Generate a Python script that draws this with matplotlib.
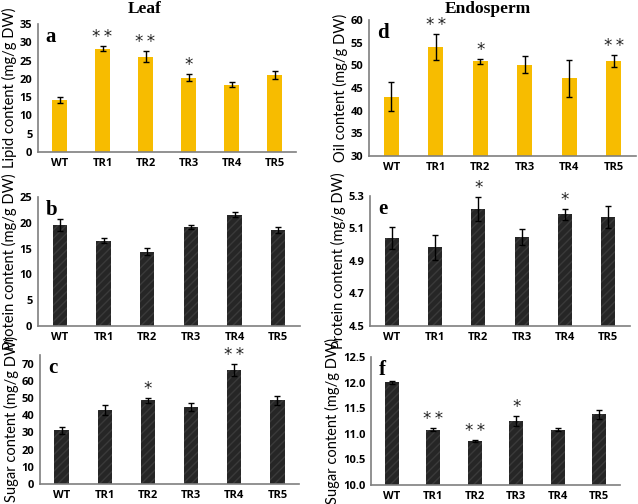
import matplotlib
matplotlib.use("Agg")
import matplotlib.pyplot as plt

lines = ["WT", "TR1", "TR2", "TR3", "TR4", "TR5"]

leaf_lipid = [14.2, 28.2, 26.1, 20.3, 18.4, 21.0]
leaf_lipid_err = [0.9, 0.65, 1.4, 1.0, 0.7, 1.1]
leaf_lipid_sig = ["", "**", "**", "*", "", ""]

leaf_protein = [19.6, 16.5, 14.4, 19.2, 21.6, 18.6]
leaf_protein_err = [1.1, 0.5, 0.65, 0.4, 0.5, 0.5]
leaf_protein_sig = ["", "", "", "", "", ""]

leaf_sugar = [31.2, 43.1, 48.6, 44.8, 66.2, 48.6]
leaf_sugar_err = [2.1, 2.7, 1.6, 2.3, 3.3, 2.6]
leaf_sugar_sig = ["", "", "*", "", "**", ""]

endo_oil = [43.1, 54.0, 50.9, 50.1, 47.1, 50.9]
endo_oil_err = [3.2, 2.9, 0.6, 1.9, 4.0, 1.3]
endo_oil_sig = ["", "**", "*", "", "", "**"]

endo_protein = [5.042, 4.986, 5.22, 5.048, 5.187, 5.171]
endo_protein_err = [0.067, 0.077, 0.071, 0.049, 0.036, 0.068]
endo_protein_sig = ["", "", "*", "", "*", ""]

endo_sugar = [12.01, 11.08, 10.86, 11.25, 11.08, 11.38]
endo_sugar_err = [0.03, 0.03, 0.02, 0.10, 0.025, 0.09]
endo_sugar_sig = ["", "**", "**", "*", "", ""]

W, H = 638, 504
YELLOW = "#F7BC00"
DARK = "#262626"
SPINE = "#7f7f7f"

fig = plt.figure(figsize=(W / 100, H / 100), dpi=100)


def px_axes(left, top, right, bottom):
    return fig.add_axes([left / W, 1 - bottom / H, (right - left) / W, (bottom - top) / H])


def panel(box, vals, errs, sig, color, ylim, ticks, fmt, ylabel, letter, hatch=None):
    ax = px_axes(*box)
    x = range(len(lines))
    ax.bar(x, [v - ylim[0] for v in vals], bottom=ylim[0], width=0.33, color=color,
           hatch=hatch, edgecolor=color if hatch is None else "#3a3a3a", linewidth=0)
    ax.errorbar(x, vals, yerr=errs, fmt="none", ecolor="black", elinewidth=1,
                capsize=2.5, capthick=1)
    for i, s in enumerate(sig):
        if s:
            ax.text(i, vals[i] + errs[i], "\u2009".join(s), ha="center",
                    va="bottom", fontsize=12, family="DejaVu Sans", color="#222222")
    ax.set_xlim(-0.5, len(lines) - 0.5)
    ax.set_ylim(*ylim)
    ax.set_yticks(ticks)
    ax.set_yticklabels([fmt.format(t) for t in ticks], fontsize=8, fontweight="bold",
                       family="Open Sans")
    ax.set_xticks(list(x))
    ax.set_xticklabels(lines, fontsize=8, fontweight="bold", family="Open Sans")
    ax.tick_params(length=0, pad=4)
    for side in ["top", "right"]:
        ax.spines[side].set_visible(False)
    for side in ["left", "bottom"]:
        ax.spines[side].set_color(SPINE)
        ax.spines[side].set_linewidth(1.2)
    ax.set_ylabel(ylabel, fontsize=10.5, family="Lato", labelpad=2)
    ax.text(0.03, 0.98, letter, transform=ax.transAxes, ha="left", va="top",
            fontsize=15, fontweight="bold", family="Liberation Serif")
    return ax


panel((38, 24, 296, 152), leaf_lipid, leaf_lipid_err, leaf_lipid_sig, YELLOW,
      (0, 35), range(0, 36, 5), "{:d}", "Lipid content (mg/g DW)", "a")
panel((38, 197, 300, 326), leaf_protein, leaf_protein_err, leaf_protein_sig, DARK,
      (0, 25), range(0, 26, 5), "{:d}", "Protein content (mg/g DW)", "b", hatch="////")
panel((40, 355, 299, 484), leaf_sugar, leaf_sugar_err, leaf_sugar_sig, DARK,
      (0, 75), range(0, 71, 10), "{:d}", "Sugar content (mg/g DW)", "c", hatch="////")
panel((369, 20, 636, 156), endo_oil, endo_oil_err, endo_oil_sig, YELLOW,
      (30, 60), range(30, 61, 5), "{:d}", "Oil content (mg/g DW)", "d")
panel((370, 196, 630, 326), endo_protein, endo_protein_err, endo_protein_sig, DARK,
      (4.5, 5.3), [4.5, 4.7, 4.9, 5.1, 5.3], "{:.1f}", "Protein content (mg/g DW)", "e",
      hatch="////")
panel((371, 357, 620, 485), endo_sugar, endo_sugar_err, endo_sugar_sig, DARK,
      (10.0, 12.5), [10.0, 10.5, 11.0, 11.5, 12.0, 12.5], "{:.1f}",
      "Sugar content (mg/g DW)", "f", hatch="////")

fig.text(145 / W, 1 - 9 / H, "Leaf", ha="center", va="center", fontsize=12.5,
         fontweight="bold", family="Liberation Serif")
fig.text(488 / W, 1 - 9 / H, "Endosperm", ha="center", va="center", fontsize=12.5,
         fontweight="bold", family="Liberation Serif")

fig.savefig("out.png", dpi=100)
